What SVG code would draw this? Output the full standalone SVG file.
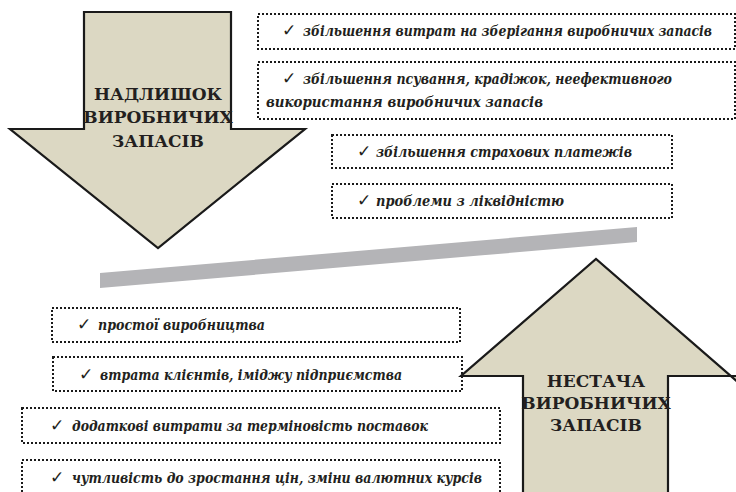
<svg xmlns="http://www.w3.org/2000/svg" width="736" height="492" viewBox="0 0 736 492">
<style>
.arrow{fill:#dcd8c3;stroke:#1a1a1a;stroke-width:2.2;stroke-linejoin:miter}
.atext{font-family:"DejaVu Serif",serif;font-weight:bold;font-size:17px;fill:#231f20;text-anchor:middle}
.box{fill:none;stroke:#1a1a1a;stroke-width:2;stroke-dasharray:2 2}
.btext{font-family:"DejaVu Serif",serif;font-weight:bold;font-style:italic;font-size:15px;fill:#231f20}
.chk{font-family:"DejaVu Sans",sans-serif;font-size:17px;fill:#231f20}
</style>
<rect width="736" height="492" fill="#ffffff"/>
<g id="arrow-surplus">
<polygon class="arrow" points="84,12 231,12 231,129 305,129 158,248 10,129 84,129"/>
<text class="atext" x="158" y="100">НАДЛИШОК</text>
<text class="atext" x="158" y="123">ВИРОБНИЧИХ</text>
<text class="atext" x="158" y="147">ЗАПАСІВ</text>
</g>
<g id="arrow-shortage">
<polygon class="arrow" points="523,500 523,376 461,376 596,259 740,384 740,376 668,376 668,500"/>
<text class="atext" x="596" y="387">НЕСТАЧА</text>
<text class="atext" x="596" y="409">ВИРОБНИЧИХ</text>
<text class="atext" x="596" y="431">ЗАПАСІВ</text>
</g>
<g id="balance-bar">
<polygon points="100,273 637,227 637,242 100,288" fill="#b4b4b7"/>
</g>
<g id="connectors"></g>
<g id="box1">
<rect class="box" x="258" y="14" width="477" height="35"/>
<text class="chk" x="282" y="36">✓</text>
<text class="btext" x="303" y="36" textLength="409" lengthAdjust="spacingAndGlyphs">збільшення витрат на зберігання виробничих запасів</text>
</g>
<g id="box2">
<rect class="box" x="258" y="62" width="477" height="57"/>
<text class="chk" x="282" y="84">✓</text>
<text class="btext" x="303" y="84" textLength="369" lengthAdjust="spacingAndGlyphs">збільшення псування, крадіжок, неефективного</text>
<text class="btext" x="266" y="107" textLength="277" lengthAdjust="spacingAndGlyphs">використання виробничих запасів</text>
</g>
<g id="box3">
<rect class="box" x="332" y="135" width="340" height="33"/>
<text class="chk" x="357" y="157">✓</text>
<text class="btext" x="376" y="157" textLength="256" lengthAdjust="spacingAndGlyphs">збільшення страхових платежів</text>
</g>
<g id="box4">
<rect class="box" x="332" y="184" width="340" height="34"/>
<text class="chk" x="357" y="206">✓</text>
<text class="btext" x="376" y="206" textLength="188" lengthAdjust="spacingAndGlyphs">проблеми з ліквідністю</text>
</g>
<g id="box5">
<rect class="box" x="52" y="308" width="408" height="34"/>
<text class="chk" x="77" y="330">✓</text>
<text class="btext" x="98" y="330" textLength="167" lengthAdjust="spacingAndGlyphs">простої виробництва</text>
</g>
<g id="box6">
<rect class="box" x="53" y="357" width="409" height="34"/>
<text class="chk" x="79" y="380">✓</text>
<text class="btext" x="100" y="380" textLength="302" lengthAdjust="spacingAndGlyphs">втрата клієнтів, іміджу підприємства</text>
</g>
<g id="box7">
<rect class="box" x="22" y="408" width="478" height="35"/>
<text class="chk" x="50" y="431">✓</text>
<text class="btext" x="72" y="431" textLength="356" lengthAdjust="spacingAndGlyphs">додаткові витрати за терміновість поставок</text>
</g>
<g id="box8">
<rect class="box" x="22" y="460" width="478" height="40"/>
<text class="chk" x="50" y="483">✓</text>
<text class="btext" x="72" y="483" textLength="410" lengthAdjust="spacingAndGlyphs">чутливість до зростання цін, зміни валютних курсів</text>
</g>
</svg>
